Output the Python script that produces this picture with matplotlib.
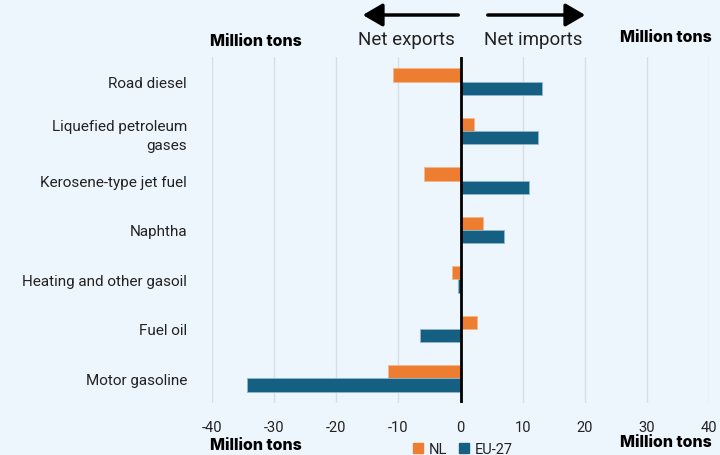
import matplotlib
matplotlib.use("Agg")
import matplotlib.pyplot as plt
import numpy as np
from matplotlib.patches import Patch, FancyArrowPatch

categories = ["Road diesel", "Liquefied petroleum\ngases", "Kerosene-type jet fuel",
              "Naphtha", "Heating and other gasoil", "Fuel oil", "Motor gasoline"]
nl_values = [-10.8, 2.1, -5.8, 3.6, -1.4, 2.6, -11.6]
eu_values = [13.1, 12.4, 11.1, 7.0, -0.4, -6.5, -34.4]
xticks = [-40, -30, -20, -10, 0, 10, 20, 30, 40]

bg = "#EEF6FD"
c_nl = "#ED7D31"
c_eu = "#156082"

fig = plt.figure(figsize=(7.2, 4.56), dpi=100, facecolor=bg)
ax = fig.add_axes([212/720, 1-404/456, (709-212)/720, (404-58)/456], facecolor=bg)

y = np.arange(len(categories))
h = 0.27
ax.barh(y - h/2, nl_values, height=h, color=c_nl, edgecolor="#F6B58A", linewidth=0.6, zorder=3)
ax.barh(y + h/2, eu_values, height=h, color=c_eu, edgecolor="#8FB8D0", linewidth=0.6, zorder=3)

ax.set_xlim(-40, 40)
ax.set_ylim(len(categories) - 0.5, -0.5)
ax.set_xticks(xticks)
ax.set_xticklabels([str(t) for t in xticks], fontsize=10.5, family="Roboto", color="#222222")
ax.set_yticks(y)
ax.set_yticklabels(categories, fontsize=11, family="Roboto", color="#222222", linespacing=1.45)
ax.tick_params(axis="both", length=0)
ax.tick_params(axis="x", pad=12)
ax.tick_params(axis="y", pad=18)
ax.grid(axis="x", color="#D9DEE3", linewidth=1, zorder=0)
for s in ax.spines.values():
    s.set_visible(False)
ax.axvline(0, color="black", linewidth=2, zorder=4)

def fx(px):
    return px / 720
def fy(py):
    return 1 - py / 456

bold = dict(fontsize=11.5, fontweight=800, family="Inter", color="black")
fig.text(fx(210), fy(42), "Million tons", ha="left", va="center", **bold)
fig.text(fx(712), fy(38), "Million tons", ha="right", va="center", **bold)
fig.text(fx(210), fy(446), "Million tons", ha="left", va="center", **bold)
fig.text(fx(712), fy(443), "Million tons", ha="right", va="center", **bold)

fig.text(fx(455), fy(40), "Net exports", ha="right", va="center", fontsize=13.5, family="Roboto", color="#222222")
fig.text(fx(484), fy(40), "Net imports", ha="left", va="center", fontsize=13.5, family="Roboto", color="#222222")

fig.add_artist(FancyArrowPatch((fx(461), fy(16)), (fx(360), fy(16)),
               transform=fig.transFigure, arrowstyle="-|>,head_length=6,head_width=3.5",
               color="black", linewidth=2.5, mutation_scale=2))
fig.add_artist(FancyArrowPatch((fx(485), fy(16)), (fx(588), fy(16)),
               transform=fig.transFigure, arrowstyle="-|>,head_length=6,head_width=3.5",
               color="black", linewidth=2.5, mutation_scale=2))

handles = [Patch(color=c_nl, label="NL"), Patch(color=c_eu, label="EU-27")]
leg = fig.legend(handles=handles, loc="center", bbox_to_anchor=(fx(463), fy(450)), ncol=2,
                 frameon=False, handlelength=0.7, handleheight=0.7, handletextpad=0.4,
                 columnspacing=0.8, prop={"family": "Roboto", "size": 10.5})
for t in leg.get_texts():
    t.set_color("#222222")

fig.savefig("out.png", dpi=100, facecolor=bg)
